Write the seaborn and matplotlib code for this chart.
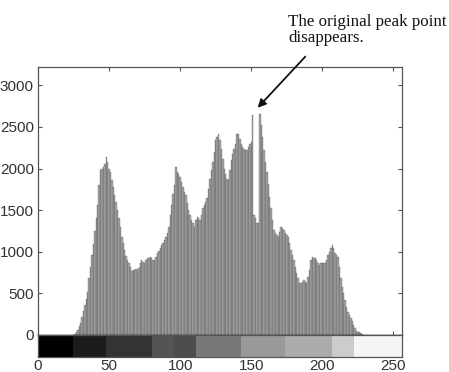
import numpy as np
import matplotlib
matplotlib.use('Agg')
import matplotlib.pyplot as plt
import seaborn as sns

# ── Data ───────────────────────────────────────────────────────
first_level = 26
counts = [
    10, 30, 60, 110, 150, 220, 290, 360, 430, 520,            # 26-35
    680, 820, 960, 1090, 1250, 1400, 1560, 1800, 1980, 2000,  # 36-45
    2020, 2060, 2140, 2080, 2000, 1960, 1860, 1780, 1680, 1600,  # 46-55
    1500, 1400, 1300, 1180, 1100, 1020, 950, 900, 860, 820,   # 56-65
    770, 780, 780, 790, 780, 810, 870, 900, 880, 860,         # 66-75
    900, 920, 930, 940, 920, 900, 900, 940, 980, 1010,        # 76-85
    1050, 1080, 1110, 1140, 1180, 1220, 1300, 1440, 1560, 1700,  # 86-95
    1800, 2020, 1960, 1940, 1900, 1840, 1780, 1720, 1680, 1580,  # 96-105
    1500, 1440, 1380, 1340, 1300, 1380, 1420, 1400, 1380, 1440,  # 106-115
    1520, 1560, 1600, 1640, 1760, 1880, 1980, 2080, 2200, 2340,  # 116-125
    2380, 2420, 2340, 2240, 2120, 2000, 1940, 1880, 1860, 1980,  # 126-135
    2100, 2180, 2240, 2300, 2420, 2420, 2360, 2300, 2260, 2240,  # 136-145
    2220, 2220, 2260, 2300, 2320, 2640, 1440, 1400, 1340, 1340,  # 146-155
    2660, 2520, 2380, 2220, 2080, 1960, 1820, 1660, 1520, 1380,  # 156-165
    1260, 1220, 1200, 1180, 1240, 1300, 1280, 1260, 1230, 1200,  # 166-175
    1180, 1100, 1020, 960, 900, 820, 740, 680, 620, 620,      # 176-185
    640, 660, 640, 620, 700, 780, 900, 940, 920, 920,         # 186-195
    900, 860, 840, 860, 860, 860, 860, 900, 960, 1000,        # 196-205
    1040, 1080, 1040, 980, 960, 940, 820, 680, 580, 500,      # 206-215
    420, 340, 280, 240, 200, 170, 120, 80, 50, 40,            # 216-225
    30, 20, 10, 5,                                            # 226-229
]
levels = np.arange(first_level, first_level + len(counts))

# grayscale strip under the histogram (posterised levels)
strip_edges = [0, 24.5, 48, 80, 96, 111, 143, 174, 207, 222.5, 256]
strip_gray  = [0.0, 0.11, 0.2, 0.33, 0.3, 0.47, 0.6, 0.67, 0.8, 0.96]

y_ticks = [0, 500, 1000, 1500, 2000, 2500, 3000]
x_ticks = [0, 50, 100, 150, 200, 250]

# ── Theme ──────────────────────────────────────────────────────
sns.set_theme(style='white')
plt.rcParams.update({'font.family': ['Liberation Sans', 'DejaVu Sans'],
                     'font.size': 7.5, 'axes.edgecolor': '#555555',
                     'axes.linewidth': 0.9, 'xtick.color': '#555555',
                     'ytick.color': '#555555', 'xtick.labelcolor': '#333333',
                     'ytick.labelcolor': '#333333'})

fig = plt.figure(figsize=(4.49, 3.72), dpi=100)
ax = fig.add_axes([0.0846, 0.0995, 0.8107, 0.7204])
cax = fig.add_axes([0.0846, 0.0403, 0.8107, 0.0592])

sns.histplot(x=levels, weights=counts, discrete=True, ax=ax,
             color='#a8a8a8', edgecolor='#444444', linewidth=0.2, alpha=1)
ax.set_xlim(0, 256)
ax.set_ylim(0, 3220)
ax.set_yticks(y_ticks)
ax.set_xticks(x_ticks)
ax.set_xticklabels([])
ax.set_xlabel(''); ax.set_ylabel('')
ax.tick_params(direction='in', length=3, width=0.8, top=True, right=True,
               bottom=True, left=True, pad=3)
ax.axhline(0, color='#222222', lw=1.0)

# grayscale strip
cax.pcolormesh(strip_edges, [0, 1], [strip_gray], cmap='gray', vmin=0, vmax=1)
cax.set_xlim(0, 256)
cax.set_ylim(0, 1)
cax.set_yticks([])
cax.set_xticks(x_ticks)
cax.tick_params(direction='in', length=3, width=0.8, top=True, bottom=True, pad=1.5)

# annotation
fig.text(288 / 449, 1 - 14 / 372, 'The original peak point\ndisappears.',
         family=['Liberation Serif', 'DejaVu Serif'], fontsize=12.2,
         va='top', ha='left', linespacing=1.0, color='#111111')
ax.annotate('', xy=(154.5, 2730), xytext=(188, 3345),
            arrowprops=dict(arrowstyle='-|>', lw=1.3, color='#111111',
                            mutation_scale=12, shrinkA=0, shrinkB=0),
            annotation_clip=False)

plt.savefig('out.png', dpi=100)
